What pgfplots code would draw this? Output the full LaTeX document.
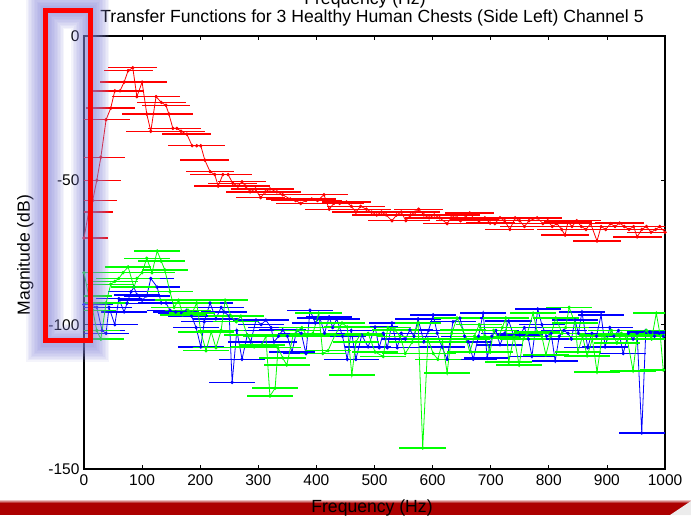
\documentclass[border=0pt]{standalone}
\usepackage{fontspec}
\setmainfont{Liberation Sans}
\usepackage{pgfplots}
\pgfplotsset{compat=1.18}
\usepackage{pgfplotstable}

\definecolor{mred}{rgb}{1,0,0}
\definecolor{mblue}{rgb}{0,0,1}
\definecolor{mgreen}{rgb}{0,1,0}
\definecolor{glow}{RGB}{130,130,215}
\definecolor{band}{RGB}{172,0,0}

\pgfplotstableread{
x y
0 -70
8 -61
15 -57
22 -50
29 -42
38 -29
46 -25
53 -19
62 -19
69 -16
76 -12
84 -11
91 -21
100 -16
108 -27
115 -33
124 -21
133 -23
141 -24
146 -27
153 -32
160 -32
167 -33
177 -34
186 -38
194 -38
201 -38
208 -43
217 -47
225 -48
231 -52
239 -48
248 -48
256 -51
265 -52
272 -50.5
278 -52
286 -54
295 -53
304 -56
312 -54
320 -53
332 -54
342 -55
355 -56.5
364 -57
373 -58
382 -57
392 -56.5
402 -57
413 -55
422 -60
430 -58
440 -58
452 -57.5
460 -59
468 -61
476 -59
486 -60
495 -61
504 -62
512 -61
520 -62
530 -64
538 -62
546 -61
554 -64
562 -62
570 -61
576 -60
585 -62
594 -63
603 -62
612 -63
625 -65
632 -63
640 -62
648 -64
656 -63
664 -61.3
672 -63.5
680 -64
690 -63
699 -64.8
707 -65
716 -63
724 -64
733 -67
742 -63
750 -64
758 -66
766 -64
780 -63
790 -65
798 -64
806 -66
814 -65
822 -67
828 -69
833 -64.4
840 -66
848 -64
856 -66
864 -67
872 -65
883 -71
890 -66
898 -67
906 -65
914 -66
922 -64.8
930 -66
938 -67
946 -66
952 -69.6
960 -67
968 -66
976 -68
984 -67
991 -66
1000 -68
}\redtab

\pgfplotstableread{
x y
0 -93
10 -93
22 -94
31 -102
38 -103
43 -94
53 -100
60 -91
69 -95.6
74 -92.6
81 -88.6
86 -87
91 -89.7
100 -91.5
108 -90
115 -84
126 -87
133 -92.5
141 -92.5
148 -95
158 -95.6
168 -96
177 -95
185 -97
193 -101
201 -107.7
207 -99
217 -92.5
227 -98
236 -94
241 -95.6
250 -97
255 -120
263 -102
272 -112
281 -103.6
287 -106
296 -98.4
305 -100
313 -98.4
322 -101
327 -106
335 -104
342 -101.8
350 -104
358 -109.5
366 -102
374 -103
382 -110
389 -95
398 -99.4
406 -97.7
414 -103
422 -97.3
428 -101
435 -98
445 -104
453 -112
460 -102
468 -112
478 -103.6
489 -107.7
501 -100.8
508 -108
515 -103
522 -108
530 -99.4
539 -108
546 -103
553 -105
561 -101.8
568 -104
575 -98
585 -106
593 -102
601 -96.6
608 -103
616 -107.7
625 -112
635 -99
647 -97.7
655 -104
662 -106
670 -112
679 -104
687 -96
694 -111.5
702 -104
709 -102
716 -107
724 -103
731 -98.7
740 -104
750 -103.6
758 -101
765 -105
771 -111
781 -94.6
788 -100
796 -104
804 -103
811 -112.6
818 -104
826 -102
833 -103
839 -105
845 -98.4
851 -103
857 -95.6
867 -108
874 -103
882 -104
890 -96.6
897 -107.7
905 -101
912 -104
920 -102
928 -110
937 -103
945 -105
952 -103
960 -137.5
967 -102
974 -102.5
982 -104
990 -103
997 -104
}\bluetab

\pgfplotstableread{
x y
0 -82
8 -90
15 -95
22 -102
29 -105
38 -92.5
46 -86
53 -85
60 -84
67 -82
76 -80
86 -87
91 -84
100 -82
108 -77
117 -82
126 -74.5
133 -78
139 -81
148 -88.6
155 -94
163 -91.5
170 -96.6
179 -95
186 -96
194 -92.5
201 -102.5
210 -109
219 -102.5
227 -108
236 -102
243 -91.5
253 -97
262 -99
270 -97
281 -103.6
293 -107.7
306 -107
313 -104
320 -124.7
329 -122
334 -108
342 -111.5
349 -114
360 -103.6
367 -102
375 -101
384 -104
394 -103
404 -96
411 -110
420 -109
432 -103.6
444 -99.4
453 -100.8
461 -117.4
468 -106
475 -103.6
489 -103
501 -109.5
515 -111
523 -101
535 -101.8
544 -104
553 -110
565 -106
575 -99.4
583 -142.7
592 -105
601 -110
609 -112
617 -106
625 -116.7
633 -103
642 -97.7
652 -101.8
658 -105
664 -109.5
672 -104
680 -100
690 -104
699 -109.5
705 -102
713 -104.6
720 -101
726 -97.7
731 -113
740 -104
749 -114
756 -105
763 -103
773 -96
780 -102.5
788 -104
795 -110.5
803 -104
812 -97.7
823 -103
829 -101
835 -94
845 -99.4
850 -109.5
858 -104
866 -110.8
875 -105
883 -116.4
892 -103.6
900 -105
908 -102
917 -106.4
925 -103
935 -105
945 -116
952 -104
960 -103.6
968 -102
977 -105
985 -96
992 -104
997 -115.7
}\greentab

\begin{document}
\begin{tikzpicture}[x=1pt,y=1pt]
% bottom band (background of the slide)
\fill[band] (-84,-46) rectangle (607,-34);
\shade[top color=white, bottom color=band] (-84,-34) rectangle (607,-30);
\fill[white!85!gray] (586,-46) -- (607,-32) -- (607,-46) -- cycle;

\begin{axis}[
  at={(0,0)}, anchor=south west,
  scale only axis, width=581pt, height=433pt,
  xmin=0, xmax=1000, ymin=-150, ymax=0,
  xtick={0,100,200,300,400,500,600,700,800,900,1000},
  xticklabels={0,100,200,300,400,500,600,700,800,900,1000},
  ytick={-150,-100,-50,0},
  yticklabels={-150,-100,-50,0},
  tick align=inside, major tick length=4pt,
  tick style={black, line width=0.8pt},
  axis line style={black, line width=1.2pt},
  ticklabel style={font=\fontsize{15.5}{16}\selectfont},
  xticklabel style={yshift=-2pt},
  yticklabel style={xshift=-1pt},
  error bars/error bar style={line width=1.4pt},
]
\addplot[mred, line width=0.8pt, mark=*, mark size=1.3pt,
  error bars/.cd, x dir=both, x fixed=42, error mark=none]
  table[x=x,y=y] {\redtab};
\addplot[mblue, line width=0.8pt, mark=*, mark size=1.3pt,
  error bars/.cd, x dir=both, x fixed=40, error mark=none]
  table[x=x,y=y] {\bluetab};
\addplot[mgreen, line width=0.8pt, mark=*, mark size=1.3pt,
  error bars/.cd, x dir=both, x fixed=40, error mark=none]
  table[x=x,y=y] {\greentab};
\end{axis}

% labels
\node[anchor=base, font=\fontsize{17.6}{18}\selectfont] at (288,446) {Transfer Functions for 3 Healthy Human Chests (Side Left) Channel 5};
\node[anchor=base, font=\fontsize{17.6}{18}\selectfont] at (281,464) {Frequency (Hz)};
\node[anchor=base, font=\fontsize{17.6}{18}\selectfont] at (288,-43) {Frequency (Hz)};
\node[anchor=base, rotate=90, font=\fontsize{17.6}{18}\selectfont] at (-54,214) {Magnitude (dB)};

% highlight rectangle with soft glow
\foreach \w in {38,35,...,8}
  \draw[glow, line width=\w pt, opacity=0.09] (-38.5,126.5) rectangle (6.5,458.5);
\draw[mred, line width=5pt] (-38.5,128.5) rectangle (6.5,458.5);

\pgfresetboundingbox
\useasboundingbox (-84,-46) rectangle (607,469);
\end{tikzpicture}
\end{document}
